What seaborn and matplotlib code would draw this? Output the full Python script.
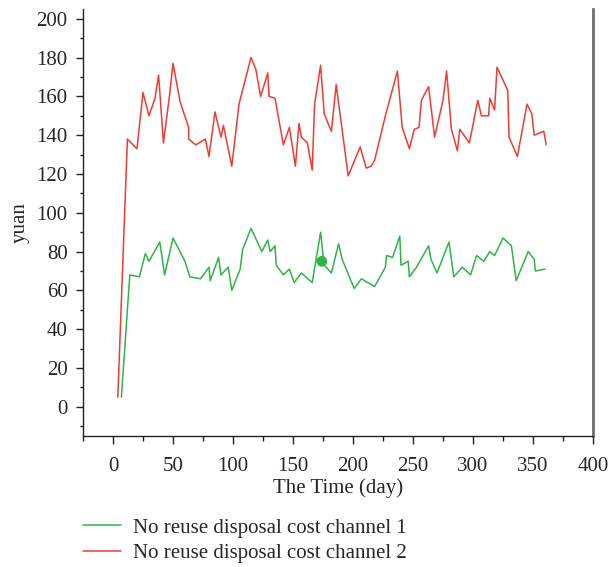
import numpy as np
import pandas as pd
import matplotlib
matplotlib.use("Agg")
import matplotlib.pyplot as plt
import seaborn as sns
from matplotlib.ticker import MultipleLocator
from matplotlib.lines import Line2D

# ---- data ----
days_ch2 = [4, 12, 20, 25, 30, 35, 38, 42, 47, 50, 56, 63, 63, 69, 77, 80, 85, 90, 92, 99,
            105, 115, 119, 123, 129, 130, 135, 142, 147, 152, 155, 157, 162, 166, 168, 173,
            176, 182, 186, 196, 206, 211, 215, 218, 227, 237, 241, 247, 251, 255, 257, 263,
            268, 275, 278, 282, 287, 289, 297, 304, 307, 313, 314, 318, 320, 329, 330, 337,
            345, 349, 351, 359, 361]
cost_ch2 = [5, 138, 133, 162, 150, 159, 171, 136, 160, 177, 157, 144, 138, 135, 138, 129,
            152, 139, 145, 124, 156, 180, 174, 160, 172, 160, 159, 135, 144, 124, 146, 139,
            136, 122, 156, 176, 151, 142, 166, 119, 134, 123, 124, 127, 150, 173, 144, 133,
            143, 144, 158, 165, 139, 158, 173, 143, 132, 143, 136, 158, 150, 150, 159, 153,
            175, 163, 139, 129, 156, 151, 140, 142, 135]

days_ch1 = [7, 14, 22, 27, 30, 39, 43, 50, 60, 64, 73, 80, 81, 88, 90, 96, 99, 106, 108,
            115, 124, 129, 131, 135, 136, 142, 147, 151, 157, 166, 173, 176, 182, 188, 191,
            201, 207, 218, 227, 228, 233, 239, 240, 246, 247, 253, 263, 265, 270, 280, 284,
            291, 298, 303, 309, 314, 318, 325, 332, 336, 346, 351, 352, 360]
cost_ch1 = [5, 68, 67, 79, 75, 85, 68, 87, 75, 67, 66, 72, 65, 77, 68, 72, 60, 71, 81, 92,
            80, 86, 80, 83, 73, 68, 71, 64, 69, 64, 90, 73, 69, 84, 76, 61, 66, 62, 72, 78,
            77, 88, 73, 75, 67, 72, 83, 76, 69, 85, 67, 72, 68, 78, 75, 80, 78, 87, 83, 65,
            80, 76, 70, 71]

marker_day = [174]
marker_val = [75]

series_names = ["No reuse disposal cost channel 1", "No reuse disposal cost channel 2"]
x_ticks = [0, 50, 100, 150, 200, 250, 300, 350, 400]
y_ticks = [0, 20, 40, 60, 80, 100, 120, 140, 160, 180, 200]

GREEN = "#33b24a"
RED = "#ee3c34"
FS = 15

df = pd.concat([
    pd.DataFrame({"day": days_ch1, "cost": cost_ch1, "series": series_names[0]}),
    pd.DataFrame({"day": days_ch2, "cost": cost_ch2, "series": series_names[1]}),
], ignore_index=True)

sns.set_style("ticks")
plt.rcParams["font.family"] = ["Liberation Serif", "DejaVu Serif"]

fig = plt.figure(figsize=(6.08, 5.67), dpi=100)
ax = fig.add_axes([83 / 608, 1 - 436 / 567, (593 - 83) / 608, (436 - 9) / 567])

sns.lineplot(data=df, x="day", y="cost", hue="series", sort=False, estimator=None,
             palette={series_names[0]: GREEN, series_names[1]: RED},
             linewidth=1.1, ax=ax, legend=False)
sns.scatterplot(x=marker_day, y=marker_val, color=GREEN, s=60, edgecolor="none",
                ax=ax, zorder=5)

ax.set_xlim(-25, 400)
ax.set_ylim(-15, 205)
ax.set_xticks(x_ticks)
ax.set_yticks(y_ticks)
ax.xaxis.set_minor_locator(MultipleLocator(25))
ax.yaxis.set_minor_locator(MultipleLocator(10))
ax.tick_params(axis="both", which="major", labelsize=FS, direction="out", width=1.0,
               color="#222222")
ax.tick_params(axis="x", which="major", length=6, pad=9)
ax.tick_params(axis="y", which="major", length=5, pad=6)
ax.tick_params(axis="x", which="minor", length=3.3, width=1.0, color="#222222")
ax.tick_params(axis="y", which="minor", length=2.5, width=1.0, color="#222222")

ax.spines["top"].set_visible(False)
ax.spines["left"].set_color("#222222")
ax.spines["bottom"].set_color("#222222")
ax.spines["left"].set_linewidth(1.0)
ax.spines["bottom"].set_linewidth(1.0)
ax.spines["right"].set_color("#6e6e6e")
ax.spines["right"].set_linewidth(2.0)

ax.set_xlabel("The Time (day)", fontsize=FS, labelpad=2)
ax.set_ylabel("yuan", fontsize=FS, labelpad=5)

handles = [Line2D([0], [0], color=GREEN, lw=1.1), Line2D([0], [0], color=RED, lw=1.1)]
fig.legend(handles, series_names, loc="upper left", bbox_to_anchor=(83 / 608, 1 - 518 / 567),
           frameon=False, fontsize=FS, handlelength=1.8, handletextpad=0.6,
           labelspacing=0.3, borderaxespad=0, borderpad=0)

fig.savefig("out.png", dpi=100)
